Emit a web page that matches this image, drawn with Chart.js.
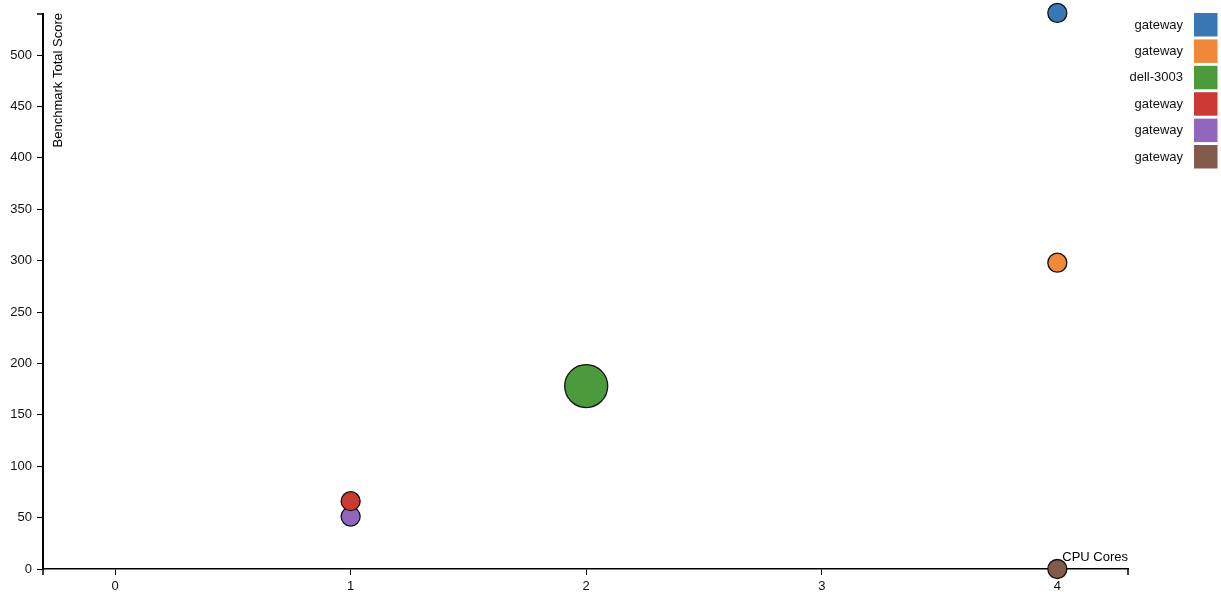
<!DOCTYPE html>
<html>
<head>
<meta charset="utf-8">
<script src="https://cdn.jsdelivr.net/npm/chart.js@4/dist/chart.umd.min.js"></script>
<style>
  html, body { margin: 0; padding: 0; background: #fff; }
  #wrap { width: 1221px; height: 597px; position: relative; }
</style>
</head>
<body>
<div id="wrap"><canvas id="Chart1"></canvas></div>
<script>
// machines, one bubble each
const names = ["gateway", "gateway", "dell-3003", "gateway", "gateway", "gateway"];
const cpuCores = [4, 4, 2, 1, 1, 4];
const scores = [541, 298, 178, 66, 51, 0];
const radii = [9.5, 9.5, 21.5, 9.5, 9.5, 9.5];
const colors = ["#3a78b5", "#f0883a", "#4b9b3c", "#c93a32", "#9067bd", "#845a4c"];
const xTicks = [0, 1, 2, 3, 4];
const yTicks = [0, 50, 100, 150, 200, 250, 300, 350, 400, 450, 500];

const FONT = "Liberation Sans, Arial, Helvetica, sans-serif";

document.addEventListener("DOMContentLoaded", function () {
  const datasets = names.map(function (n, i) {
    return {
      label: n,
      data: [{ x: cpuCores[i], y: scores[i], r: radii[i] }],
      backgroundColor: colors[i],
      borderColor: "#111",
      borderWidth: 1.3,
      clip: false
    };
  });

  // axis titles, outer ticks and the legend on the right
  const extras = {
    id: "extras",
    afterDraw: function (chart) {
      const ctx = chart.ctx;
      const a = chart.chartArea;
      ctx.save();
      ctx.strokeStyle = "#000";
      ctx.lineWidth = 1.5;
      ctx.beginPath();
      ctx.moveTo(a.left - 6, a.top); ctx.lineTo(a.left, a.top);
      ctx.moveTo(a.left, a.bottom); ctx.lineTo(a.left, a.bottom + 6);
      ctx.moveTo(a.right, a.bottom); ctx.lineTo(a.right, a.bottom + 6);
      ctx.stroke();

      ctx.fillStyle = "#000";
      ctx.font = "13px " + FONT;
      ctx.textAlign = "right";
      ctx.textBaseline = "alphabetic";
      ctx.fillText("CPU Cores", a.right, a.bottom - 8);

      ctx.save();
      ctx.translate(a.left + 19, a.top - 1);
      ctx.rotate(-Math.PI / 2);
      ctx.fillText("Benchmark Total Score", 0, 0);
      ctx.restore();

      // legend
      chart.data.datasets.forEach(function (ds, i) {
        const top = 13 + i * 26.4;
        ctx.fillStyle = ds.backgroundColor;
        ctx.fillRect(1194, top, 23.5, 23.5);
        ctx.fillStyle = "#111";
        ctx.textAlign = "right";
        ctx.textBaseline = "middle";
        ctx.fillText(ds.label, 1183, top + 12);
      });
      ctx.restore();
    }
  };

  new Chart(document.getElementById("Chart1"), {
    type: "bubble",
    data: { datasets: datasets },
    plugins: [extras],
    options: {
      responsive: true,
      maintainAspectRatio: false,
      animation: false,
      layout: { autoPadding: false, padding: { top: 14, right: 93, left: 0, bottom: 0 } },
      plugins: { legend: { display: false }, tooltip: { enabled: false } },
      scales: {
        x: {
          type: "linear",
          min: -0.306,
          max: 4.3,
          afterBuildTicks: function (s) { s.ticks = xTicks.map(function (v) { return { value: v }; }); },
          afterFit: function (s) { s.height = 28; s.paddingLeft = 0; s.paddingRight = 0; },
          grid: { drawOnChartArea: false, tickLength: 6, tickColor: "#000", tickWidth: 1 },
          border: { color: "#000", width: 1.5 },
          ticks: { color: "#111", font: { family: FONT, size: 13 }, padding: 4, maxRotation: 0 }
        },
        y: {
          type: "linear",
          min: 0,
          max: 540,
          afterBuildTicks: function (s) { s.ticks = yTicks.map(function (v) { return { value: v }; }); },
          afterFit: function (s) { s.width = 43; s.paddingTop = 0; s.paddingBottom = 0; },
          grid: { drawOnChartArea: false, tickLength: 6, tickColor: "#000", tickWidth: 1 },
          border: { color: "#000", width: 2 },
          ticks: { color: "#111", font: { family: FONT, size: 13 }, padding: 5 }
        }
      }
    }
  });
});
</script>
</body>
</html>
